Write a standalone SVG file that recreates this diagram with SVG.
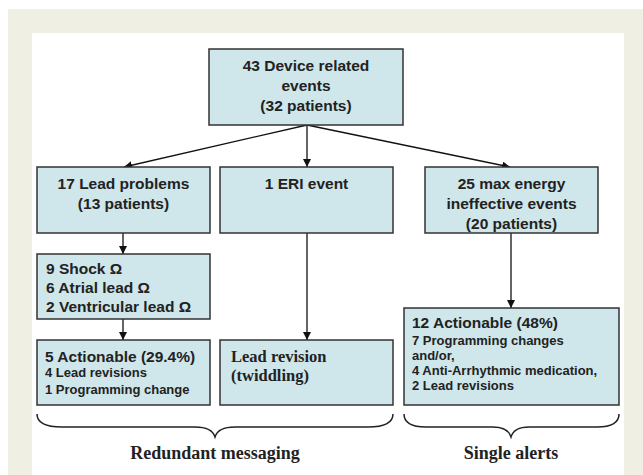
<svg xmlns="http://www.w3.org/2000/svg" width="643" height="475" viewBox="0 0 643 475">
<style>
.box{fill:#cfe6ea;stroke:#333;stroke-width:1.5}
.t{font-family:"Liberation Sans",Arial,sans-serif;font-weight:bold;font-size:15.5px;fill:#222}
.s{font-family:"Liberation Sans",Arial,sans-serif;font-weight:bold;font-size:13px;fill:#222}
.r{font-family:"Liberation Serif","Times New Roman",serif;font-weight:bold;fill:#222}
.c{text-anchor:middle}
.ln{stroke:#111;stroke-width:1.3;fill:none}
.br{stroke:#222;stroke-width:1.5;fill:none}
</style>
<defs>
<marker id="ah" viewBox="0 0 10 10" refX="10" refY="5" markerWidth="8" markerHeight="8" markerUnits="userSpaceOnUse" orient="auto">
<path d="M0,0 L10,5 L0,10 z" fill="#111"/>
</marker>
</defs>
<rect x="8" y="9" width="635" height="466" fill="#efefe4"/>
<rect x="32" y="33" width="592" height="442" fill="#ffffff"/>
<g id="connectors">
<line class="ln" x1="307" y1="125" x2="124" y2="167" marker-end="url(#ah)"/>
<line class="ln" x1="307" y1="125" x2="307" y2="167" marker-end="url(#ah)"/>
<line class="ln" x1="307" y1="125" x2="510" y2="167" marker-end="url(#ah)"/>
<line class="ln" x1="123" y1="233" x2="123" y2="254" marker-end="url(#ah)"/>
<line class="ln" x1="123" y1="319" x2="123" y2="340" marker-end="url(#ah)"/>
<line class="ln" x1="307" y1="233" x2="307" y2="340" marker-end="url(#ah)"/>
<line class="ln" x1="511" y1="233" x2="511" y2="308" marker-end="url(#ah)"/>
</g>
<g id="n-top">
<rect class="box" x="209" y="49" width="194" height="76"/>
<text class="t c" x="306" y="71">43 Device related</text>
<text class="t c" x="306" y="91">events</text>
<text class="t c" x="306" y="111">(32 patients)</text>
</g>
<g id="n-lead">
<rect class="box" x="37" y="167" width="173" height="66"/>
<text class="t c" x="123.5" y="189">17 Lead problems</text>
<text class="t c" x="123.5" y="209">(13 patients)</text>
</g>
<g id="n-eri">
<rect class="box" x="220" y="167" width="173" height="66"/>
<text class="t c" x="306.5" y="189">1 ERI event</text>
</g>
<g id="n-max">
<rect class="box" x="425" y="167" width="173" height="66"/>
<text class="t c" x="511.5" y="189">25 max energy</text>
<text class="t c" x="511.5" y="209">ineffective events</text>
<text class="t c" x="511.5" y="229">(20 patients)</text>
</g>
<g id="n-shock">
<rect class="box" x="37" y="254" width="173" height="65"/>
<text class="t" x="46" y="274">9 Shock Ω</text>
<text class="t" x="46" y="293">6 Atrial lead  Ω</text>
<text class="t" x="46" y="312">2 Ventricular lead  Ω</text>
</g>
<g id="n-act1">
<rect class="box" x="37" y="340" width="173" height="65"/>
<text class="t" x="45" y="362">5 Actionable (29.4%)</text>
<text class="s" x="45" y="377">4 Lead revisions</text>
<text class="s" x="45" y="394">1 Programming change</text>
</g>
<g id="n-rev">
<rect class="box" x="220" y="340" width="173" height="65"/>
<text class="r" x="231" y="362" font-size="16.5">Lead revision</text>
<text class="r" x="231" y="381" font-size="16.5">(twiddling)</text>
</g>
<g id="n-act2">
<rect class="box" x="404" y="308" width="215" height="97"/>
<text class="t" x="412" y="328">12 Actionable (48%)</text>
<text class="s" x="412" y="345">7 Programming changes</text>
<text class="s" x="412" y="360">and/or,</text>
<text class="s" x="412" y="375">4 Anti-Arrhythmic medication,</text>
<text class="s" x="412" y="390">2 Lead revisions</text>
</g>
<g id="braces">
<path class="br" d="M37,414 Q37,427 62,427 L195,427 Q212,427 215,437 Q218,427 235,427 L368,427 Q393,427 393,414"/>
<path class="br" d="M404,414 Q404,427 426,427 L493,427 Q508,427 511,437 Q514,427 529,427 L597,427 Q619,427 619,414"/>
<text class="r c" x="215" y="459" font-size="18">Redundant messaging</text>
<text class="r c" x="511" y="459" font-size="18">Single alerts</text>
</g>
</svg>
